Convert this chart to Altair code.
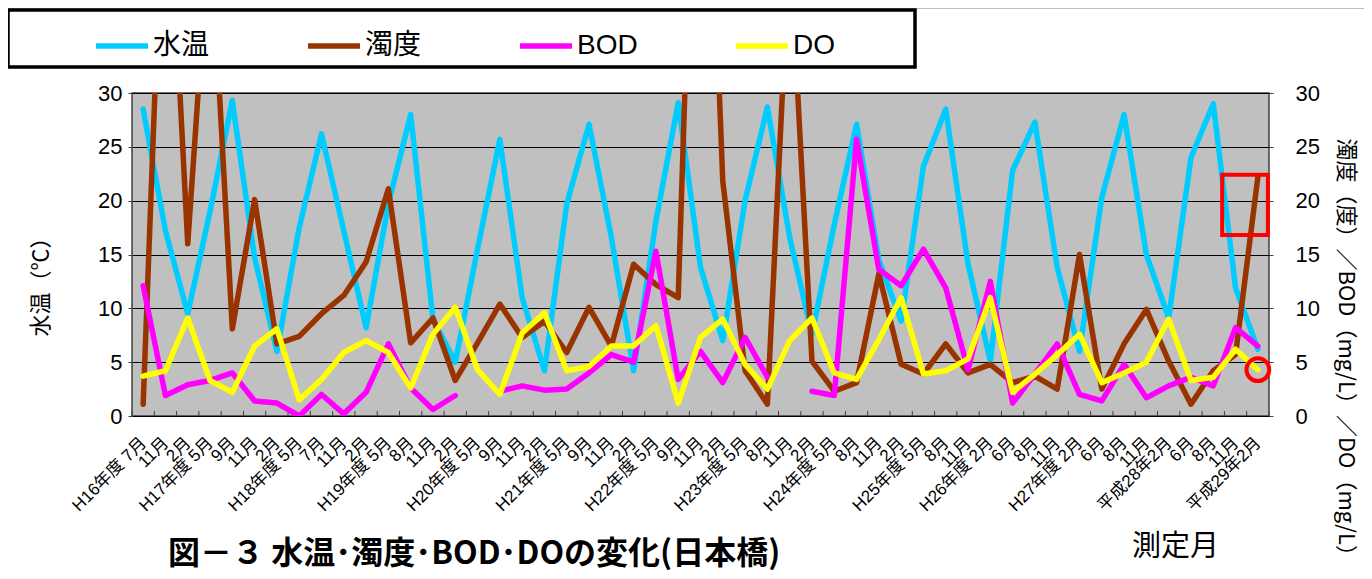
import altair as alt
import pandas as pd

# ---------------- data ----------------
cats = ["H16年度 7月", "11月", "2月", "H17年度 5月", "9月", "11月", "2月",
        "H18年度 5月", "7月", "11月", "2月", "H19年度 5月", "8月", "11月", "2月",
        "H20年度 5月", "9月", "11月", "2月", "H21年度 5月", "9月", "11月", "2月",
        "H22年度 5月", "9月", "11月", "2月", "H23年度 5月", "8月", "11月", "2月",
        "H24年度 5月", "8月", "11月", "2月", "H25年度 5月", "8月", "11月",
        "H26年度 2月", "6月", "8月", "11月", "H27年度 2月", "6月", "8月", "11月",
        "平成28年2月", "6月", "8月", "11月", "平成29年2月"]

temp = [28.5, 17.2, 9.5, 19.0, 29.3, 14.7, 6.0, 17.5, 26.2, 17.2, 8.2, 19.7, 28.0,
        9.0, 5.0, 15.5, 25.7, 11.0, 4.2, 19.7, 27.1, 16.6, 4.2, 18.1, 29.1, 13.8,
        7.0, 20.0, 28.7, 16.6, 7.6, 17.8, 27.1, 14.5, 8.8, 23.2, 28.5, 14.1, 5.1,
        22.8, 27.3, 13.8, 6.0, 20.3, 28.0, 15.0, 9.1, 24.0, 29.0, 11.9, 6.2]

turb = [1.1, 56, 16.0, 46, 8.1, 20.1, 6.7, 7.4, 9.5, 11.2, 14.3, 21.1, 6.8, 9.1,
        3.3, 6.8, 10.4, 7.3, 8.8, 5.9, 10.1, 6.5, 14.1, 12.2, 11.0, 75, 21.8, 4.2,
        1.1, 44, 5.1, 2.3, 3.1, 13.2, 4.8, 3.9, 6.7, 4.0, 4.8, 3.1, 3.7, 2.5, 15.0,
        2.5, 6.7, 9.9, 5.1, 1.1, 4.2, 5.7, 22.2]

bod = [12.1, 1.9, 2.9, 3.3, 4.0, 1.4, 1.2, 0.0, 2.0, 0.2, 2.2, 6.7, 2.6, 0.6, 1.9,
       None, 2.3, 2.8, 2.4, 2.5, 4.0, 5.7, 5.0, 15.3, 3.4, 6.0, 3.1, 7.3, 3.6, None,
       2.3, 1.9, 25.7, 13.6, 12.1, 15.5, 11.9, 4.3, 12.5, 1.2, 3.9, 6.7, 2.0, 1.4,
       4.8, 1.7, 2.8, 3.6, 2.8, 8.2, 6.5]

do_ = [3.7, 4.2, 9.1, 3.3, 2.2, 6.5, 8.1, 1.5, 3.4, 5.9, 7.0, 5.9, 2.6, 7.6, 10.1,
       4.3, 2.0, 7.7, 9.6, 4.2, 4.6, 6.5, 6.5, 8.4, 1.2, 7.3, 9.0, 4.8, 2.5, 7.0,
       9.1, 4.0, 3.4, 7.1, 11.0, 3.9, 4.2, 5.3, 11.0, 2.2, 3.9, 5.7, 7.6, 3.1, 4.0,
       5.0, 9.0, 3.3, 3.6, 6.2, 4.3]

series_names = ["水温", "濁度", "BOD", "DO"]
series_colors = ["#00CCFF", "#993300", "#FF00FF", "#FFFF00"]

# red annotation marks (box around last 濁度 value, circle on last DO value)
box_x = [48.9, 50.95]
box_y = [16.8, 22.4]
circle_index = 50

# ---------------- table ----------------
rows = []
for name, vals in zip(series_names, [temp, turb, bod, do_]):
    seg = 0
    for i, v in enumerate(vals):
        if v is None:
            seg += 1
            continue
        rows.append({"pos": i + 0.5, "value": v, "series": name, "seg": seg})
df = pd.DataFrame(rows)
ticks_df = pd.DataFrame({"b": list(range(len(cats) + 1))})
box_df = pd.DataFrame({"x": [box_x[0]], "x2": [box_x[1]], "y": [box_y[0]], "y2": [box_y[1]]})
circ_df = pd.DataFrame({"pos": [circle_index + 0.5], "value": [do_[circle_index]]})
frame_df = pd.DataFrame({"k": [0]})

# ---------------- layout ----------------
W, H = 1137, 323
FONT = "'Liberation Sans', 'Noto Sans CJK JP'"
JP = "'Noto Sans CJK JP'"
ZW = "\u200b"

xscale = alt.Scale(domain=[0, len(cats)], nice=False, zero=False)
yscale = alt.Scale(domain=[0, 30], nice=False, zero=True)

label_js = "[" + ",".join('"%s"' % c for c in cats) + ',""]'
xaxis = alt.Axis(values=list(range(len(cats) + 1)),
                 labelExpr=label_js + "[datum.value]",
                 labelAngle=315, labelAlign="right", labelBaseline="middle",
                 labelOffset=W / len(cats) / 2, labelFlush=False, labelOverlap=False,
                 labelFontSize=17, labelFont=FONT, labelPadding=24, labelColor="black",
                 ticks=False, domain=False, grid=False,
                 title="測定月", titleFont=JP, titleFontSize=29, titleFontWeight="normal",
                 titleX=1043, titleY=130, titleAlign="center", titleBaseline="middle",
                 titleColor="black")

yvals = [0, 5, 10, 15, 20, 25, 30]
left_axis = alt.Axis(values=yvals, grid=True, gridColor="black", gridWidth=1.2,
                     labelFontSize=22, labelFont=FONT, labelPadding=6, labelColor="black",
                     tickSize=4, tickColor="#404040", domain=False,
                     title="水温（℃）", titleFont=JP, titleFontSize=22, titleFontWeight="normal",
                     titleAngle=270, titleX=-92, titleY=188, titleAlign="center",
                     titleBaseline="middle", titleColor="black")
right_axis = alt.Axis(values=yvals, orient="right", grid=False,
                      labelFontSize=22, labelFont=FONT, labelPadding=22, labelColor="black",
                      tickSize=4, tickColor="#404040", domain=False,
                      title="濁度（度）／BOD（mg/L）／DO（mg/L）", titleFont=JP, titleFontSize=22,
                      titleFontWeight="normal", titleAngle=90, titleX=76, titleY=45,
                      titleAlign="left", titleBaseline="middle", titleColor="black")

color = alt.Color("series:N",
                  scale=alt.Scale(domain=series_names, range=series_colors),
                  legend=alt.Legend(orient="none", legendX=-124, legendY=-83,
                                    direction="horizontal",
                                    title=ZW + "\u3000\u3000\u3000" + ZW,
                                    titleOrient="left", titleFont=JP, titleFontSize=24,
                                    titlePadding=6, symbolType="stroke",
                                    symbolStrokeWidth=5.5, symbolSize=2704,
                                    labelFont=FONT, labelFontSize=28, labelColor="black",
                                    labelOffset=2, columnPadding=87, padding=7,
                                    labelExpr="datum.label == 'DO' ? 'DO\u3000\u3000\u2002\u200a\u200b' : datum.label",
                                    strokeColor="black", fillColor="white"))


def line(name, yaxis):
    return alt.Chart(df).transform_filter(alt.datum.series == name).mark_line(
        strokeWidth=5.5, clip=True, strokeJoin="round", strokeCap="round"
    ).encode(
        x=alt.X("pos:Q", scale=xscale, axis=xaxis),
        y=alt.Y("value:Q", scale=yscale, axis=yaxis),
        color=color,
        detail="seg:N",
    )


# outer chart-area border (decoration)
frame = alt.Chart(frame_df).mark_rect(fillOpacity=0, stroke="#808080", strokeWidth=1.2).encode(
    x=alt.value(-127), x2=alt.value(W + 120), y=alt.value(-85), y2=alt.value(H + 200),
)

tick_layer = alt.Chart(ticks_df).mark_rule(color="#404040", strokeWidth=1).encode(
    x=alt.X("b:Q", scale=xscale, axis=xaxis),
    y=alt.value(H), y2=alt.value(H - 5),
)

left = alt.layer(frame, tick_layer, line("水温", left_axis))

box = alt.Chart(box_df).mark_rect(fillOpacity=0, stroke="#FF0000", strokeWidth=4).encode(
    x=alt.X("x:Q", scale=xscale, axis=xaxis), x2="x2",
    y=alt.Y("y:Q", scale=yscale, axis=right_axis), y2="y2",
)
circ = alt.Chart(circ_df).mark_point(shape="circle", size=520, filled=False,
                                     stroke="#FF0000", strokeWidth=4, opacity=1).encode(
    x=alt.X("pos:Q", scale=xscale, axis=xaxis),
    y=alt.Y("value:Q", scale=yscale, axis=right_axis),
)
right = alt.layer(line("濁度", right_axis), line("BOD", right_axis),
                  line("DO", right_axis), box, circ)

chart = alt.layer(left, right).resolve_scale(y="independent").properties(
    width=W, height=H,
    padding={"left": 124, "top": 85, "right": 95, "bottom": 160},
    autosize=alt.AutoSizeParams(type="none"),
    title=alt.TitleParams("図－３ 水温･濁度･BOD･DOの変化(日本橋)", orient="bottom",
                          anchor="start", frame="group", offset=-78, dx=36,
                          fontSize=32, fontWeight="bold", font=JP, color="black"),
).configure_view(
    fill="#C0C0C0", stroke="#404040", strokeWidth=1.5
).configure_legend(
    strokeWidth=3.5
)

chart.save("out.html", embed_options={"renderer": "svg", "actions": False})
